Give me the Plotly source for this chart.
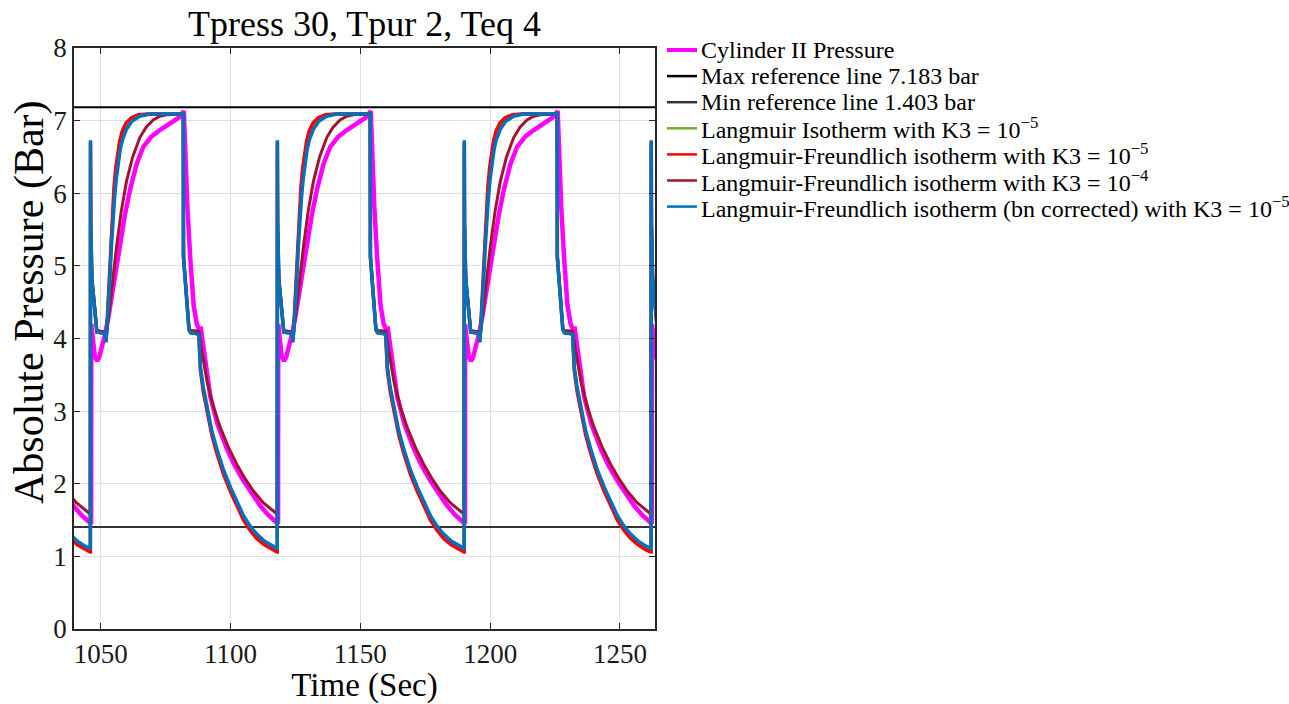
import plotly.graph_objects as go

# ---------------- axes ----------------
x_range = [1039.7, 1263.5]
y_range = [0, 8]
x_ticks = [1050, 1100, 1150, 1200, 1250]
y_ticks = [0, 1, 2, 3, 4, 5, 6, 7, 8]

# ---------------- reference pressures (bar) ----------------
max_ref = 7.183
min_ref = 1.403

# start time of each cycle (equalisation jump), seconds
cycle_starts = [974.0, 1046.0, 1118.0, 1190.0, 1262.0]

# ---------------- one cycle of each series ----------------
# time after the cycle start (s) and absolute pressure (bar)
meas_tau = [0.0, 0.3, 0.35, 0.9, 1.7, 2.6, 3.4, 4.4, 5.5, 7.0, 8.5, 10.0, 11.4,
            13.3, 15.3, 17.8, 20.4, 23.5, 26.8, 29.5, 31.9, 34.0, 36.0, 36.5,
            37.4, 38.5, 39.8, 41.0, 42.0, 42.6, 43.2, 44.2, 46.2, 49.0, 52.6,
            55.5, 59.0, 62.0, 65.4, 68.5, 71.9]
meas_p = [1.46, 1.45, 4.2, 4.0, 3.76, 3.69, 3.74, 3.88, 4.03, 4.3, 4.65, 4.95, 5.27,
          5.7, 6.05, 6.4, 6.64, 6.78, 6.87, 6.93, 6.99, 7.04, 7.13, 6.6,
          5.8, 5.1, 4.45, 4.2, 4.12, 4.13, 4.0, 3.72, 3.20, 2.82, 2.48,
          2.26, 2.04, 1.87, 1.70, 1.57, 1.46]

lang_tau = [0.0, 0.05, 0.15, 0.6, 1.2, 1.9, 2.5, 5.8, 5.95, 6.3, 6.85, 7.4, 8.0,
            8.6, 9.2, 9.9, 10.6, 11.4, 12.35, 13.85, 15.9, 18.8, 22.5, 35.8,
            35.85, 36.0, 36.6, 37.3, 38.0, 38.6, 41.8, 42.0, 42.4, 43.5, 45.0,
            46.8, 48.8, 51.3, 54.0, 56.5, 59.0, 61.5, 64.0, 67.0, 70.0, 71.9]
lang_p = [1.085, 6.7, 5.6, 4.81, 4.58, 4.25, 4.09, 4.07, 3.95, 4.10, 4.42, 4.86, 5.32,
          5.70, 6.0, 6.28, 6.49, 6.66, 6.80, 6.93, 7.02, 7.07, 7.09, 7.09,
          5.13, 5.05, 4.75, 4.35, 4.12, 4.08, 4.06, 3.89, 3.585, 3.30, 3.00,
          2.70, 2.44, 2.16, 1.92, 1.71, 1.53, 1.39, 1.28, 1.185, 1.115, 1.085]

lf5_tau = [0.0, 0.05, 0.15, 0.6, 1.2, 1.9, 2.5, 5.8, 5.95, 6.3, 6.8, 7.3, 7.9,
           8.5, 9.1, 9.8, 10.5, 11.3, 12.3, 13.8, 15.8, 18.5, 22.0, 35.8,
           35.85, 36.0, 36.6, 37.3, 38.0, 38.6, 41.8, 42.0, 42.4, 43.5, 45.0,
           46.8, 48.8, 51.3, 54.0, 56.5, 59.0, 61.5, 64.0, 67.0, 70.0, 71.9]
lf5_p = [1.06, 6.7, 5.6, 4.81, 4.58, 4.25, 4.09, 4.07, 3.95, 4.12, 4.45, 4.90, 5.38,
         5.78, 6.08, 6.35, 6.56, 6.72, 6.86, 6.97, 7.04, 7.08, 7.09, 7.09,
         5.13, 5.05, 4.75, 4.35, 4.12, 4.08, 4.06, 3.88, 3.56, 3.27, 2.97,
         2.67, 2.41, 2.13, 1.89, 1.68, 1.50, 1.36, 1.25, 1.16, 1.09, 1.06]

lf4_tau = [0.0, 0.05, 0.15, 0.6, 1.2, 1.9, 2.5, 5.8, 5.95, 7.0, 8.5, 10.1, 11.9,
           13.9, 16.3, 19.1, 21.5, 24.2, 26.8, 29.4, 35.8, 35.85, 36.0, 36.6,
           37.3, 38.0, 38.6, 41.8, 42.6, 43.6, 45.0, 47.5, 50.0, 53.2, 56.4,
           59.6, 62.8, 66.6, 70.5, 71.9]
lf4_p = [1.58, 6.6, 5.5, 4.85, 4.62, 4.3, 4.11, 4.09, 3.97, 4.3, 4.8, 5.27, 5.75,
         6.16, 6.50, 6.77, 6.91, 7.01, 7.06, 7.08, 7.09, 5.2, 5.1, 4.8,
         4.4, 4.15, 4.11, 4.10, 3.90, 3.68, 3.40, 3.05, 2.78, 2.50, 2.27,
         2.07, 1.90, 1.74, 1.62, 1.58]

bn_tau = [0.0, 0.05, 0.15, 0.6, 1.2, 1.9, 2.5, 5.8, 5.95, 6.3, 6.9, 7.5, 8.1,
          8.7, 9.3, 10.0, 10.7, 11.5, 12.4, 13.9, 16.0, 19.0, 23.0, 35.8,
          35.85, 36.0, 36.6, 37.3, 38.0, 38.6, 41.8, 42.0, 42.4, 43.5, 45.0,
          46.8, 48.8, 51.3, 54.0, 56.5, 59.0, 61.5, 64.0, 67.0, 70.0, 71.9]
bn_p = [1.11, 6.73, 5.6, 4.81, 4.58, 4.25, 4.09, 4.07, 3.95, 4.08, 4.38, 4.81, 5.25,
        5.62, 5.93, 6.20, 6.42, 6.60, 6.74, 6.88, 6.99, 7.06, 7.09, 7.09,
        5.13, 5.05, 4.75, 4.35, 4.12, 4.08, 4.06, 3.90, 3.61, 3.33, 3.03,
        2.73, 2.47, 2.19, 1.95, 1.74, 1.56, 1.42, 1.31, 1.21, 1.14, 1.11]

# ---------------- legend entries ----------------
names = [
    "Cylinder II Pressure",
    "Max reference line 7.183 bar",
    "Min reference line 1.403 bar",
    "Langmuir Isotherm with K3 = 10<sup>\u22125</sup>",
    "Langmuir-Freundlich isotherm with K3 = 10<sup>\u22125</sup>",
    "Langmuir-Freundlich isotherm with K3 = 10<sup>\u22124</sup>",
    "Langmuir-Freundlich isotherm (bn corrected) with K3 = 10<sup>\u22125</sup>",
]
colors = ["#FF00FF", "#000000", "#333333", "#77AC30", "#FF0000", "#A2142F", "#0072BD"]
widths = [4.5, 2, 2, 3, 3.5, 3, 3.5]

FONT = "Liberation Serif, Times New Roman, serif"
W, H = 1289, 704
L, R, T, B = 74, 655, 48, 629   # plot area in pixels


def periodic(tau, p):
    xs, ys = [], []
    for s in cycle_starts:
        xs.extend(s + t for t in tau)
        ys.extend(p)
    return xs, ys


fig = go.Figure()

series = [
    periodic(meas_tau, meas_p),
    (x_range, [max_ref, max_ref]),
    (x_range, [min_ref, min_ref]),
    periodic(lang_tau, lang_p),
    periodic(lf5_tau, lf5_p),
    periodic(lf4_tau, lf4_p),
    periodic(bn_tau, bn_p),
]
for (xs, ys), name, c, w in zip(series, names, colors, widths):
    fig.add_trace(go.Scatter(x=xs, y=ys, mode="lines", name=name,
                             line=dict(color=c, width=w), showlegend=False))


def px_to_paper(px, py):
    return (px - L) / (R - L), (B - py) / (B - T)


# legend drawn beside the axes
shapes = []
annotations = []
row0, row_step = 50.0, 26.1
for i, (name, c) in enumerate(zip(names, colors)):
    py = row0 + i * row_step
    x0, y0 = px_to_paper(667, py)
    x1, _ = px_to_paper(697, py)
    shapes.append(dict(type="line", xref="paper", yref="paper", x0=x0, x1=x1,
                       y0=y0, y1=y0, line=dict(color=c, width=4 if i == 0 else 2.5)))
    xt, _ = px_to_paper(699, py)
    annotations.append(dict(text=name, xref="paper", yref="paper", x=xt, y=y0,
                            xanchor="left", yanchor="middle", showarrow=False,
                            font=dict(family=FONT, size=24, color="#000000")))

# y-axis label
ylx, yly = px_to_paper(29, 302)
annotations.append(dict(text="Absolute Pressure (Bar)", xref="paper", yref="paper",
                        x=ylx, y=yly, xanchor="center", yanchor="middle",
                        textangle=-90, showarrow=False,
                        font=dict(family=FONT, size=42, color="#000000")))

axis_common = dict(
    showline=True, linecolor="#262626", linewidth=1.5, mirror="ticks",
    ticks="inside", ticklen=6, tickwidth=1, tickcolor="#262626",
    showgrid=True, gridcolor="#dedede", gridwidth=1, zeroline=False,
    automargin=False,
    tickfont=dict(family=FONT, size=27, color="#1a1a1a"),
)

fig.update_layout(
    width=W, height=H,
    template="none",
    paper_bgcolor="white", plot_bgcolor="white",
    margin=dict(l=L, r=W - R, t=T, b=H - B, pad=0),
    title=dict(text="Tpress 30, Tpur 2, Teq 4", x=0.5, xref="paper", xanchor="center",
               y=1 - 23 / H, yref="container", yanchor="middle",
               font=dict(family=FONT, size=36, color="#000000")),
    xaxis=dict(range=x_range, tickvals=x_ticks, **axis_common,
               title=dict(text="Time (Sec)", standoff=7,
                          font=dict(family=FONT, size=33, color="#000000"))),
    yaxis=dict(range=y_range, tickvals=y_ticks, **axis_common),
    shapes=shapes,
    annotations=annotations,
    showlegend=False,
)

fig.write_html("out.html")
